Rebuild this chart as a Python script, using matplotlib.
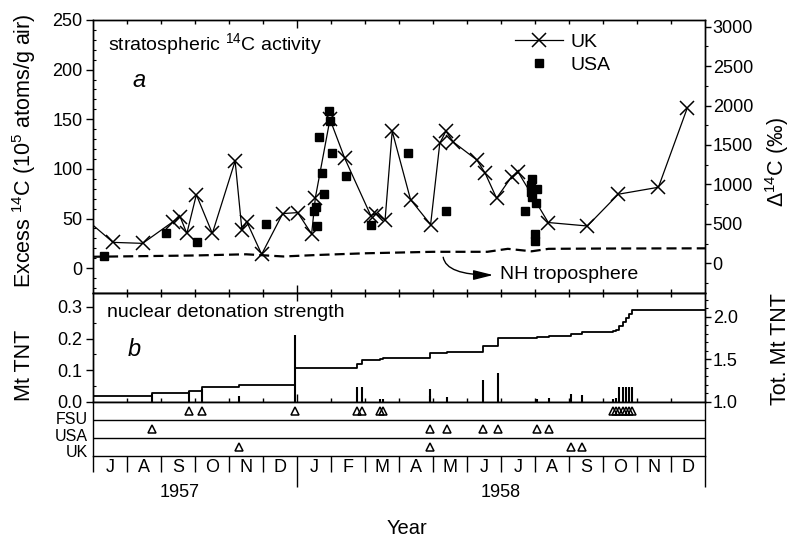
import numpy as np
import matplotlib
matplotlib.use("Agg")
import matplotlib.pyplot as plt
from matplotlib.ticker import (FixedLocator, MultipleLocator, NullFormatter,
                               FixedFormatter, FormatStrFormatter)

plt.rcParams["font.family"] = ["Liberation Sans", "DejaVu Sans"]
plt.rcParams["mathtext.fontset"] = "custom"
plt.rcParams["mathtext.rm"] = "Liberation Sans"
plt.rcParams["mathtext.it"] = "Liberation Sans:italic"
plt.rcParams["mathtext.bf"] = "Liberation Sans:bold"
plt.rcParams["axes.linewidth"] = 1.0

# ---- time axis: months elapsed since 1 July 1957 ----
month_letters = ["J", "A", "S", "O", "N", "D", "J", "F", "M",
                 "A", "M", "J", "J", "A", "S", "O", "N", "D"]
year_labels = ["1957", "1958"]
year_label_month = [2.55, 12.0]

# ---- stratospheric excess 14C (10^5 atoms/g air) ----
uk_month = [-0.4, 0.59, 1.46, 2.36, 2.56, 2.76, 3.04, 3.51, 4.18, 4.38, 4.52,
            4.96, 5.58, 6.02, 6.43, 6.54, 6.97, 7.40, 8.17, 8.33, 8.59, 8.80,
            9.34, 9.93, 10.20, 10.38, 10.60, 11.29, 11.53, 11.87, 12.31,
            12.51, 13.39, 14.54, 15.45, 16.63, 17.48]
uk_excess = [55, 26, 25, 47, 52, 35, 74, 35, 108, 38.5, 47,
             14, 55, 56, 34.5, 71, 150, 111, 53, 55, 48.5, 138,
             69, 44, 126, 138, 127, 109, 96, 70.5, 92,
             96.5, 46, 42.5, 74.5, 81.5, 161.5]

usa_month = [0.33, 2.14, 3.07, 5.10, 6.50, 6.56, 6.58, 6.65, 6.73, 6.79,
             6.95, 6.97, 7.02, 7.43, 8.18, 9.27, 10.37, 12.71, 12.88, 12.88,
             12.92, 12.92, 13.04, 13.06, 12.99, 12.99]
usa_excess = [12, 35, 26, 44.5, 58, 62, 42, 132, 96, 75,
              158, 148, 116, 93, 43, 116, 58, 58, 84, 77,
              90, 72, 66, 80, 34, 27]

trop_month = [0, 3.0, 4.5, 5.6, 6.6, 8.0, 10.0, 11.6, 12.2, 12.9, 13.4, 15.0, 18.0]
trop_excess = [11.5, 12.8, 14.0, 11.8, 13.3, 15.0, 16.5, 16.5, 19.5, 17.0, 19.5, 19.8, 20.0]

# ---- nuclear detonations (Mt TNT) ----
test_month = [1.74, 2.82, 3.21, 4.29, 5.95,
              7.76, 7.90, 8.45, 8.52, 9.91, 9.91, 10.40, 11.46, 11.92,
              13.05, 13.41, 14.06, 14.37,
              15.29, 15.39, 15.48, 15.60, 15.68, 15.76, 15.84]
test_yield = [0.026, 0.034, 0.040, 0.020, 0.210,
              0.047, 0.047, 0.008, 0.008, 0.042, 0.018, 0.016, 0.070, 0.091,
              0.010, 0.012, 0.025, 0.023,
              0.010, 0.012, 0.047, 0.047, 0.047, 0.047, 0.047]
test_country = ["USA", "FSU", "FSU", "UK", "FSU",
                "FSU", "FSU", "FSU", "FSU", "USA", "UK", "USA", "USA", "USA",
                "USA", "USA", "UK", "UK",
                "FSU", "FSU", "FSU", "FSU", "FSU", "FSU", "FSU"]
total_at_start = 1.075
countries = ["FSU", "USA", "UK"]

# ---- figure layout (pixel geometry of a 793 x 543 canvas) ----
W_PX, H_PX = 793, 543
fig = plt.figure(figsize=(W_PX / 100, H_PX / 100), dpi=100)


def box(x0, y0, x1, y1):
    return [x0 / W_PX, 1 - y1 / H_PX, (x1 - x0) / W_PX, (y1 - y0) / H_PX]


ax_a = fig.add_axes(box(93, 20, 705, 293))
ax_b = fig.add_axes(box(93, 293, 705, 402))
ax_r = fig.add_axes(box(93, 402, 705, 456))

FS_TICK = 13

# ================= panel a =================
ax_a.set_xlim(0, 18)
ax_a.set_ylim(-25, 250)
uk_line, = ax_a.plot(uk_month, uk_excess, color="k", lw=0.9, marker="x",
                     ms=9.5, mew=1.1)
usa_pts, = ax_a.plot(usa_month, usa_excess, ls="none", marker="s", ms=5.5,
                     color="k")
ax_a.plot(trop_month, trop_excess, color="k", lw=1.6, dashes=(4.5, 2.3))

ax_a.annotate("", xy=(11.77, -6.9), xytext=(10.30, 11.0),
              arrowprops=dict(arrowstyle="-|>,head_length=1.2,head_width=0.3",
                              connectionstyle="angle3,angleA=-80,angleB=0",
                              color="k", lw=1.0, shrinkA=0, shrinkB=0,
                              mutation_scale=10))
ax_a.text(11.97, -11.2, "NH troposphere", fontsize=14, va="baseline")

ax_a.legend([uk_line, usa_pts], ["UK", "USA"], loc="upper left",
            bbox_to_anchor=(0.6895, 0.951), frameon=False, borderpad=0,
            borderaxespad=0, handlelength=2.47, handletextpad=0.36,
            labelspacing=0.29, fontsize=14, numpoints=1)

ax_a.text(0.0245, 0.890, r"stratospheric $^{\mathrm{14}}$C activity",
          transform=ax_a.transAxes, fontsize=14, va="baseline")
ax_a.text(0.0637, 0.7535, "a", style="italic", fontsize=17,
          transform=ax_a.transAxes, va="baseline")

ax_a2 = ax_a.twinx()
ax_a2.set_ylim(-377, 3085)

# ================= panel b =================
ax_b.set_xlim(0, 18)
ax_b.set_ylim(0, 0.344)
ax_b.vlines(test_month, 0, test_yield, colors="k", lw=1.5)
ax_b.text(0.0229, 0.783, "nuclear detonation strength", fontsize=14,
          transform=ax_b.transAxes, va="baseline")
ax_b.text(0.057, 0.422, "b", style="italic", fontsize=17,
          transform=ax_b.transAxes, va="baseline")

ax_b2 = ax_b.twinx()
ax_b2.set_ylim(1.0, 2.282)
order = np.argsort(test_month, kind="stable")
m_sorted = np.asarray(test_month)[order]
cum_total = total_at_start + np.cumsum(np.asarray(test_yield)[order])
step_x = np.concatenate([[0], m_sorted, [18]])
step_y = np.concatenate([[total_at_start], cum_total, [cum_total[-1]]])
ax_b2.step(step_x, step_y, where="post", color="k", lw=1.3)

# ================= test-site rows =================
ax_r.set_xlim(0, 18)
ax_r.set_ylim(0, 3)
for yy in (1, 2):
    ax_r.axhline(yy, color="k", lw=1.0)
row_y = {c: 2.5 - i for i, c in enumerate(countries)}
for c in countries:
    mm = [m for m, cc in zip(test_month, test_country) if cc == c]
    ax_r.plot(mm, [row_y[c]] * len(mm), ls="none", marker="^", ms=5.3,
              mfc="none", mec="k", mew=1.1)
label_y = {"FSU": 0.67, "USA": 0.37, "UK": 0.07}
for c in countries:
    ax_r.text(-0.008, label_y[c], c, transform=ax_r.transAxes, ha="right",
              va="center", fontsize=11.5)
ax_r.set_yticks([])

# ---- x ticks ----
month_edges = [m for m in range(1, 18) if m != 6]
for ax in (ax_a, ax_b):
    ax.xaxis.set_major_locator(FixedLocator(month_edges))
    ax.xaxis.set_minor_locator(FixedLocator([6]))
    ax.xaxis.set_major_formatter(NullFormatter())
    ax.tick_params(axis="x", which="major", direction="in", length=3,
                   width=1.0, top=True, bottom=True)
    ax.tick_params(axis="x", which="minor", direction="in", length=6,
                   width=1.0, top=True, bottom=True)

ax_r.xaxis.set_major_locator(FixedLocator([m for m in range(19) if m not in (6, 18)]))
ax_r.xaxis.set_major_formatter(NullFormatter())
ax_r.tick_params(axis="x", which="major", direction="out", length=11.5,
                 width=1.0, top=False)
ax_r.xaxis.set_minor_locator(FixedLocator(np.arange(18) + 0.5))
ax_r.xaxis.set_minor_formatter(FixedFormatter(month_letters))
ax_r.tick_params(axis="x", which="minor", length=0, pad=2.5, labelsize=FS_TICK)
sec = ax_r.secondary_xaxis("bottom")
sec.set_xticks([6, 18])
sec.tick_params(length=22, width=1.0, direction="out", labelbottom=False)
sec.spines["bottom"].set_visible(False)

for lab, mpos in zip(year_labels, year_label_month):
    ax_r.text(mpos, -0.685, lab, transform=ax_r.get_xaxis_transform(),
              ha="center", va="center", fontsize=FS_TICK)

# ---- y ticks ----
ax_a.yaxis.set_major_locator(MultipleLocator(50))
ax_a.yaxis.set_minor_locator(MultipleLocator(10))
ax_a2.yaxis.set_major_locator(MultipleLocator(500))
ax_a2.yaxis.set_minor_locator(MultipleLocator(250))
ax_b.yaxis.set_major_locator(MultipleLocator(0.1))
ax_b.yaxis.set_minor_locator(MultipleLocator(0.05))
ax_b.yaxis.set_major_formatter(FormatStrFormatter("%.1f"))
ax_b2.yaxis.set_major_locator(MultipleLocator(0.5))
ax_b2.yaxis.set_minor_locator(MultipleLocator(0.1))
ax_b2.yaxis.set_major_formatter(FormatStrFormatter("%.1f"))

for ax in (ax_a, ax_b):
    ax.tick_params(axis="y", which="major", direction="out", length=5,
                   width=1.0, pad=2.5, labelsize=FS_TICK)
    ax.tick_params(axis="y", which="minor", direction="in", length=2.5,
                   width=0.8)
for ax in (ax_a2, ax_b2):
    ax.tick_params(axis="y", which="major", direction="out", length=4,
                   width=1.0, pad=1.5, labelsize=FS_TICK)
    ax.tick_params(axis="y", which="minor", direction="out", length=2.5,
                   width=0.8)

# ---- axis titles ----
FS_LAB = 15.5
fig.text(24 / W_PX, 1 - 151 / H_PX,
         r"Excess $^{\mathrm{14}}$C (10$^{\mathrm{5}}$ atoms/g air)",
         rotation=90, ha="center", va="center", fontsize=FS_LAB)
fig.text(777 / W_PX, 1 - 162 / H_PX, r"Δ$^{\mathrm{14}}$C (‰)",
         rotation=90, ha="center", va="center", fontsize=FS_LAB)
fig.text(25 / W_PX, 1 - 365 / H_PX, "Mt TNT", rotation=90, ha="center",
         va="center", fontsize=FS_LAB)
fig.text(780 / W_PX, 1 - 349 / H_PX, "Tot. Mt TNT", rotation=90,
         ha="center", va="center", fontsize=FS_LAB)
fig.text(407 / W_PX, 1 - 529 / H_PX, "Year", ha="center", va="center",
         fontsize=14.5)

fig.savefig("out.png", dpi=100, facecolor="white")
